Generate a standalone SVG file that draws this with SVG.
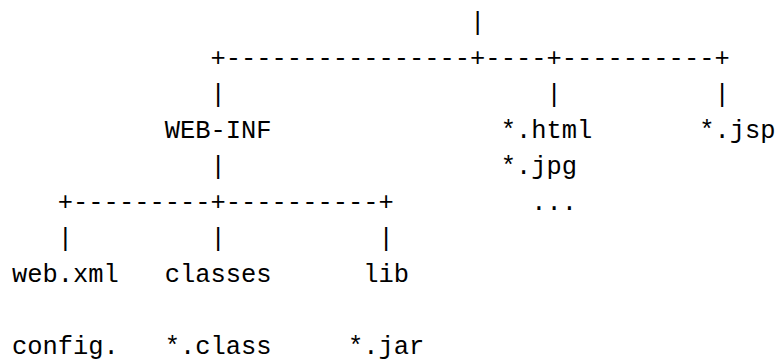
<svg xmlns="http://www.w3.org/2000/svg" width="777" height="361" viewBox="0 0 777 361">
<style>
text{font-family:"Liberation Mono","DejaVu Sans Mono",monospace;font-size:25.45px;fill:#000;}
</style>
<rect x="0" y="0" width="777" height="361" fill="#fff"/>
<g id="connectors">
<text x="470.1" y="30">|</text>
<text x="210.51" y="66" textLength="519.18" lengthAdjust="spacing">+----------------+----+----------+</text>
<text x="210.51" y="102">|</text>
<text x="546.45" y="102">|</text>
<text x="714.42" y="102">|</text>
<text x="210.51" y="174">|</text>
<text x="57.81" y="210" textLength="335.94" lengthAdjust="spacing">+---------+----------+</text>
<text x="57.81" y="246">|</text>
<text x="210.51" y="246">|</text>
<text x="378.48" y="246">|</text>
</g>
<g id="node-webinf"><text x="164.7" y="138">WEB-INF</text></g>
<g id="node-html"><text x="500.64" y="138">*.html</text></g>
<g id="node-jpg"><text x="500.64" y="174">*.jpg</text></g>
<g id="node-more"><text x="531.18" y="210">...</text></g>
<g id="node-jsp"><text x="699.15" y="138">*.jsp</text></g>
<g id="node-webxml"><text x="12" y="282">web.xml</text></g>
<g id="node-classes"><text x="164.7" y="282">classes</text></g>
<g id="node-lib"><text x="363.21" y="282">lib</text></g>
<g id="node-config"><text x="12" y="354">config.</text></g>
<g id="node-class"><text x="164.7" y="354">*.class</text></g>
<g id="node-jar"><text x="347.94" y="354">*.jar</text></g>
</svg>
